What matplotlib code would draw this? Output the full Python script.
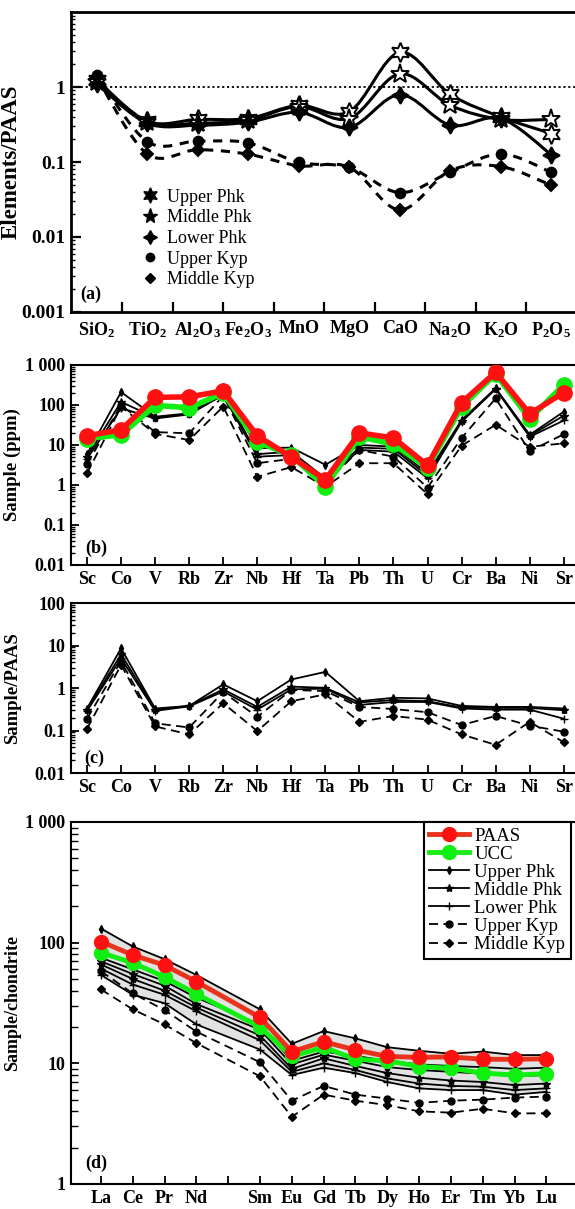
import numpy as np
import matplotlib
matplotlib.use("Agg")
import matplotlib.pyplot as plt
from matplotlib.path import Path
from matplotlib.patches import PathPatch
from matplotlib.lines import Line2D
from matplotlib.ticker import FixedLocator, NullFormatter, LogLocator

plt.rcParams['font.family'] = ['Liberation Serif', 'DejaVu Serif']
plt.rcParams['font.weight'] = 'bold'
plt.rcParams['axes.labelweight'] = 'bold'
plt.rcParams['mathtext.fontset'] = 'custom'
plt.rcParams['mathtext.rm'] = 'Liberation Serif:bold'
plt.rcParams['mathtext.default'] = 'regular'

# ---------------- data (a): major oxides / PAAS
oxides = ['SiO$_2$', 'TiO$_2$', 'Al$_2$O$_3$', 'Fe$_2$O$_3$', 'MnO', 'MgO', 'CaO', 'Na$_2$O', 'K$_2$O', 'P$_2$O$_5$']
upper_phk_a = [1.25, 0.35, 0.37, 0.38, 0.57, 0.47, 2.9, 0.80, 0.40, 0.24]
middle_phk_a = [1.15, 0.34, 0.33, 0.36, 0.55, 0.38, 1.5, 0.57, 0.37, 0.37]
lower_phk_a = [1.10, 0.33, 0.31, 0.34, 0.46, 0.29, 0.79, 0.31, 0.38, 0.125]
upper_kyp_a = [1.45, 0.187, 0.19, 0.18, 0.099, 0.085, 0.039, 0.073, 0.128, 0.073]
middle_kyp_a = [1.35, 0.128, 0.146, 0.127, 0.089, 0.085, 0.023, 0.077, 0.087, 0.049]

# ---------------- data (b): trace elements (ppm)
trace = ['Sc', 'Co', 'V', 'Rb', 'Zr', 'Nb', 'Hf', 'Ta', 'Pb', 'Th', 'U', 'Cr', 'Ba', 'Ni', 'Sr']
paas_b = [17, 24, 155, 160, 225, 17, 5.0, 1.35, 20, 15, 3.1, 115, 660, 60, 205]
ucc_b = [14.5, 18, 98, 85, 200, 12, 5.5, 0.9, 16, 10.5, 2.7, 90, 600, 45, 320]
upper_phk_b = [5.9, 210, 51, 62, 285, 8.3, 8.6, 3.2, 10, 9.1, 1.95, 42, 262, 18, 68]
middle_phk_b = [5.1, 120, 48, 60, 215, 5.9, 6.8, 1.47, 8.6, 8.0, 1.7, 40, 255, 17, 54]
lower_phk_b = [4.5, 83, 46, 58, 178, 5.1, 5.6, 1.3, 7.5, 6.8, 1.47, 38, 250, 16, 41]
upper_kyp_b = [3.3, 100, 21, 19.6, 170, 3.5, 4.5, 1.1, 7.5, 5.1, 0.86, 15, 146, 7, 18.6]
middle_kyp_b = [1.95, 90, 19, 13.3, 91, 1.6, 2.8, 0.9, 3.5, 3.5, 0.59, 9.6, 32, 9, 11]

# ---------------- data (c): trace elements / PAAS
upper_phk_c = [0.33, 8.6, 0.33, 0.38, 1.22, 0.49, 1.59, 2.4, 0.49, 0.59, 0.57, 0.38, 0.36, 0.36, 0.33]
middle_phk_c = [0.31, 6.2, 0.31, 0.38, 0.93, 0.36, 1.08, 1.01, 0.46, 0.52, 0.49, 0.35, 0.34, 0.34, 0.30]
lower_phk_c = [0.29, 5.0, 0.29, 0.37, 0.83, 0.31, 0.93, 0.97, 0.40, 0.47, 0.47, 0.33, 0.31, 0.31, 0.19]
upper_kyp_c = [0.19, 4.3, 0.148, 0.118, 0.80, 0.21, 0.90, 0.85, 0.36, 0.32, 0.27, 0.135, 0.22, 0.13, 0.094]
middle_kyp_c = [0.11, 3.5, 0.125, 0.081, 0.44, 0.097, 0.49, 0.71, 0.16, 0.22, 0.18, 0.081, 0.046, 0.16, 0.053]

# ---------------- data (d): REE / chondrite (Pm not measured)
ree = ['La', 'Ce', 'Pr', 'Nd', '', 'Sm', 'Eu', 'Gd', 'Tb', 'Dy', 'Ho', 'Er', 'Tm', 'Yb', 'Lu']
nan = np.nan
paas_d = [102, 79, 65, 47.5, nan, 24, 12.5, 15.1, 12.9, 11.4, 11.2, 11.3, 10.8, 10.8, 10.9]
ucc_d = [82.6, 68, 52, 37.6, nan, 20, 11.4, 13.6, 10.8, 10.5, 9.4, 9.1, 8.3, 8.0, 8.2]
phk_d = [
    [131, 93, 73, 54, nan, 28, 14.5, 18.5, 16.1, 13.6, 12.7, 12.0, 12.5, 11.7, 11.7],
    [75, 60, 48, 35, nan, 21, 10.5, 12.5, 11.5, 10.5, 9.8, 9.5, 9.3, 9.0, 9.2],
    [70, 55, 44, 31, nan, 19, 9.8, 11.8, 10.5, 9.3, 8.8, 8.5, 8.2, 7.8, 8.0],
    [66, 50, 40, 29, nan, 17, 9.0, 11.0, 9.5, 8.3, 7.6, 7.2, 7.0, 6.6, 6.8],
    [61, 45, 37, 27, nan, 15.5, 8.5, 10.0, 8.8, 7.5, 6.8, 6.5, 6.4, 6.0, 6.2],
    [54, 37, 31.5, 21, nan, 13, 8.0, 9.2, 8.3, 7.0, 6.2, 6.0, 6.0, 5.5, 5.8],
]
phk_d_units = ['Upper Phk', 'Upper Phk', 'Middle Phk', 'Middle Phk', 'Lower Phk', 'Lower Phk']
upper_kyp_d = [58, 38, 27.6, 18.3, nan, 10.2, 4.9, 6.5, 5.5, 5.1, 4.7, 4.9, 5.0, 5.2, 5.3]
middle_kyp_d = [41, 28, 21, 14.7, nan, 7.8, 3.6, 5.5, 4.9, 4.5, 4.0, 3.9, 4.2, 3.85, 3.85]

RED = '#ff1111'
GREEN = '#11ee11'
small_mk = {'Upper Phk': ('d', 4), 'Middle Phk': ('*', 6), 'Lower Phk': ('+', 6),
            'Upper Kyp': ('o', 5), 'Middle Kyp': ('D', 4)}
DASH = (0, (5, 3))


def smooth_path(xs, ys):
    # Catmull-Rom curve through the points (log space), drawn as cubic beziers
    p = np.column_stack([np.asarray(xs, float), np.log10(ys)])
    p = np.vstack([p[0], p, p[-1]])
    verts = [p[1]]
    codes = [Path.MOVETO]
    for i in range(1, len(p) - 2):
        c1 = p[i] + (p[i + 1] - p[i - 1]) / 6
        c2 = p[i + 1] - (p[i + 2] - p[i]) / 6
        verts += [c1, c2, p[i + 1]]
        codes += [Path.CURVE4] * 3
    v = np.array(verts)
    v[:, 1] = 10 ** v[:, 1]
    return Path(v, codes)


def style_axes(ax, lw=1.5):
    ax.set_yscale('log')
    ax.spines['right'].set_visible(False)
    for s in ['left', 'top', 'bottom']:
        ax.spines[s].set_linewidth(lw)
    ax.tick_params(which='both', direction='in', top=False, right=False)
    ax.tick_params(which='major', length=6, width=1.3, labelsize=13, pad=4)
    ax.tick_params(which='minor', length=3, width=1.0)
    ax.yaxis.set_minor_locator(LogLocator(base=10, subs=np.arange(2, 10)))
    ax.yaxis.set_minor_formatter(NullFormatter())


fig = plt.figure(figsize=(5.75, 12.09), dpi=100)
L, W = 0.1235, 0.8765

# ================= (a)
ax = fig.add_axes([L, 0.742, W, 0.248])
style_axes(ax, lw=2)
xa = np.arange(len(oxides))
ax.axhline(1, color='k', lw=1.3, ls=(0, (1.2, 1.5)))
series_a = [
    ('Upper Phk', upper_phk_a, '-', (6, 1, 0), 'white', 14, 11),
    ('Middle Phk', middle_phk_a, '-', '*', 'white', 14, 11),
    ('Lower Phk', lower_phk_a, '-', (4, 1, 0), 'k', 12, 10),
    ('Upper Kyp', upper_kyp_a, (0, (3, 2.5)), 'o', 'k', 7, 6),
    ('Middle Kyp', middle_kyp_a, (0, (3, 2.5)), 'D', 'k', 6, 5),
]
handles_a = []
for name, vals, ls, mk, fc, ms, lms in series_a:
    ax.add_patch(PathPatch(smooth_path(xa, vals), facecolor='none', edgecolor='k',
                           lw=2.2, ls=ls, transform=ax.transData))
    ax.plot(xa, vals, ls='none', marker=mk, ms=ms, mfc=fc, mec='k', mew=1.4)
    handles_a.append(Line2D([], [], ls='none', marker=mk, ms=lms, mfc='k', mec='k', label=name))
ax.set_xlim(-0.51, 9.47)
ax.set_ylim(0.001, 10)
ax.yaxis.set_major_locator(FixedLocator([0.001, 0.01, 0.1, 1]))
ax.set_yticklabels(['0.001', '0.01', '0.1', '1'], fontsize=14)
ax.set_xticks(xa)
ax.set_xticklabels(oxides, fontsize=13)
ax.tick_params(axis='x', which='major', length=0, pad=6)
ax.xaxis.set_minor_locator(FixedLocator(xa[:-1] + 0.5))
ax.tick_params(axis='x', which='minor', length=7, width=1.6)
ax.tick_params(axis='y', which='major', length=7, width=1.6)
ax.set_ylabel('Elements/PAAS', fontsize=16.5)
ax.yaxis.set_label_coords(-0.098, 0.5)
ax.legend(handles=handles_a, loc='upper left', bbox_to_anchor=(0.125, 0.435), frameon=False,
          prop={'size': 13, 'weight': 'normal'}, handlelength=1.0, handletextpad=0.4,
          labelspacing=0.2, borderaxespad=0)
ax.text(0.018, 0.057, '(a)', transform=ax.transAxes, fontsize=13, va='center')

# ================= (b) and (c)
xt = np.arange(len(trace))


def trace_panel(ax, rows):
    for name, vals, ls in rows:
        mk, ms = small_mk[name]
        ax.plot(xt, vals, color='k', lw=1.3, ls=ls, marker=mk, ms=ms, mfc='k', mec='k')
    ax.set_xlim(-0.47, 14.33)
    ax.set_xticks(xt)
    ax.set_xticklabels(trace, fontsize=13)


ax = fig.add_axes([L, 0.5327, W, 0.1654])
style_axes(ax)
ax.plot(xt, ucc_b, color=GREEN, lw=4, marker='o', ms=11, zorder=3)
ax.plot(xt, paas_b, color=RED, lw=4, marker='o', ms=11, zorder=3)
trace_panel(ax, [('Upper Phk', upper_phk_b, '-'), ('Middle Phk', middle_phk_b, '-'),
                 ('Lower Phk', lower_phk_b, '-'), ('Upper Kyp', upper_kyp_b, DASH),
                 ('Middle Kyp', middle_kyp_b, DASH)])
ax.set_ylim(0.01, 1000)
ax.yaxis.set_major_locator(FixedLocator([0.01, 0.1, 1, 10, 100, 1000]))
ax.set_yticklabels(['0.01', '0.1', '1', '10', '100', '1 000'], fontsize=13)
ax.set_ylabel('Sample (ppm)', fontsize=13.5)
ax.yaxis.set_label_coords(-0.1, 0.5)
ax.text(0.028, 0.085, '(b)', transform=ax.transAxes, fontsize=13, va='center')

ax = fig.add_axes([L, 0.3606, W, 0.1406])
style_axes(ax)
trace_panel(ax, [('Upper Phk', upper_phk_c, '-'), ('Middle Phk', middle_phk_c, '-'),
                 ('Lower Phk', lower_phk_c, '-'), ('Upper Kyp', upper_kyp_c, DASH),
                 ('Middle Kyp', middle_kyp_c, DASH)])
ax.set_ylim(0.01, 100)
ax.yaxis.set_major_locator(FixedLocator([0.01, 0.1, 1, 10, 100]))
ax.set_yticklabels(['0.01', '0.1', '1', '10', '100'], fontsize=13)
ax.set_ylabel('Sample/PAAS', fontsize=13.5)
ax.yaxis.set_label_coords(-0.1, 0.5)
ax.text(0.026, 0.088, '(c)', transform=ax.transAxes, fontsize=13, va='center')

# ================= (d)
ax = fig.add_axes([L, 0.0207, W, 0.2994])
style_axes(ax)
ax.tick_params(which='minor', length=5)
xr = np.arange(len(ree))
keep = ~np.isnan(np.array(paas_d, float))
phk_arr = np.array(phk_d, float)
ax.fill_between(xr[keep], phk_arr.min(axis=0)[keep], phk_arr.max(axis=0)[keep],
                color='#e2e2e2', lw=0, zorder=0)
seen = set()
for vals, unit in zip(phk_d, phk_d_units):
    mk, ms = small_mk[unit]
    v = np.array(vals, float)
    ax.plot(xr[keep], v[keep], color='k', lw=1.3, marker=mk, ms=ms, mfc='k', mec='k',
            label=unit if unit not in seen else None, zorder=2)
    seen.add(unit)
for vals, unit in [(upper_kyp_d, 'Upper Kyp'), (middle_kyp_d, 'Middle Kyp')]:
    mk, ms = small_mk[unit]
    v = np.array(vals, float)
    ax.plot(xr[keep], v[keep], color='k', lw=1.3, ls=DASH, marker=mk, ms=ms, mfc='k',
            mec='k', label=unit, zorder=2)
ax.plot(xr[keep], np.array(ucc_d, float)[keep], color=GREEN, lw=3.5, marker='o', ms=10,
        label='UCC', zorder=3)
ax.plot(xr[keep], np.array(paas_d, float)[keep], color='#e8341c', lw=3.5, marker='o', ms=10,
        mfc=RED, mec=RED, label='PAAS', zorder=4)
ax.set_xlim(-0.94, 14.9)
ax.set_ylim(1, 1000)
ax.set_xticks(xr)
ax.set_xticklabels(ree, fontsize=13)
ax.yaxis.set_major_locator(FixedLocator([1, 10, 100, 1000]))
ax.set_yticklabels(['1', '10', '100', '1 000'], fontsize=13)
ax.set_ylabel('Sample/chondrite', fontsize=13)
ax.yaxis.set_label_coords(-0.1, 0.5)
ax.text(0.028, 0.058, '(d)', transform=ax.transAxes, fontsize=13, va='center')
h, lab = ax.get_legend_handles_labels()
order = ['PAAS', 'UCC', 'Upper Phk', 'Middle Phk', 'Lower Phk', 'Upper Kyp', 'Middle Kyp']
hd = dict(zip(lab, h))
leg = ax.legend([hd[o] for o in order], order, loc='upper left', bbox_to_anchor=(0.70, 1.0),
                prop={'size': 13.5, 'weight': 'normal'}, handlelength=2.1, handletextpad=0.3,
                labelspacing=0.05, borderaxespad=0, borderpad=0.3, fancybox=False,
                framealpha=1, edgecolor='k')
leg.get_frame().set_linewidth(1.5)

fig.savefig('out.png', dpi=100)
